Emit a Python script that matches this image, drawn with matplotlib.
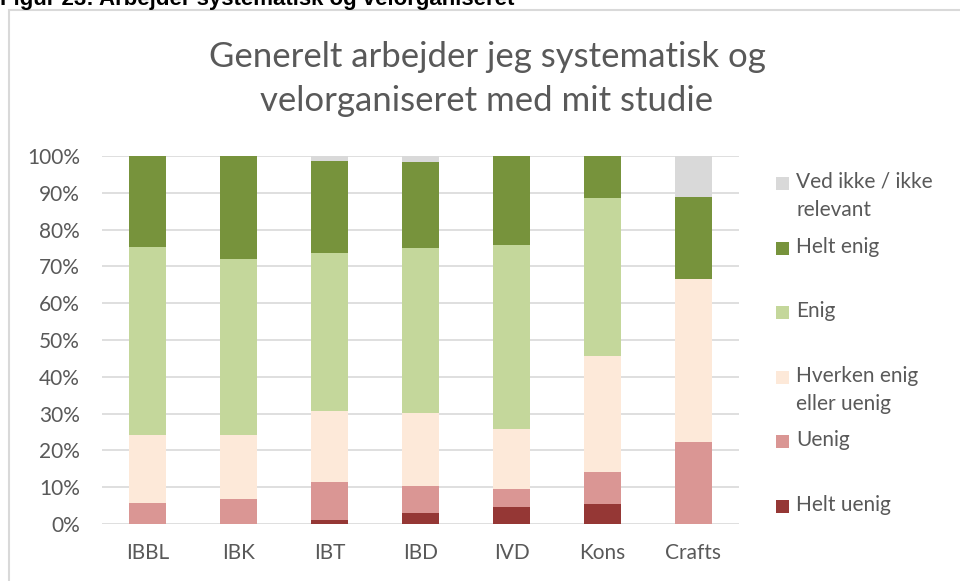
import matplotlib.pyplot as plt
import numpy as np
from matplotlib.patches import Rectangle

plt.rcParams['font.family'] = ['Lato', 'DejaVu Sans']

groups = ["IBBL", "IBK", "IBT", "IBD", "IVD", "Kons", "Crafts"]
# stacked from the bottom up
helt_uenig = [0.0, 0.0, 1.0, 2.9, 4.5, 5.4, 0.0]
uenig = [5.6, 6.7, 10.5, 7.4, 4.9, 8.7, 22.2]
hverken = [18.7, 17.6, 19.3, 19.9, 16.3, 31.5, 44.4]
enig = [50.9, 47.6, 42.8, 44.8, 50.0, 42.9, 0.0]
helt_enig = [24.8, 28.1, 25.0, 23.5, 24.3, 11.5, 22.3]
ved_ikke = [0.0, 0.0, 1.4, 1.5, 0.0, 0.0, 11.1]

series = [("Helt uenig", helt_uenig, "#953735"),
          ("Uenig", uenig, "#da9694"),
          ("Hverken enig\neller uenig", hverken, "#fde9d9"),
          ("Enig", enig, "#c4d79b"),
          ("Helt enig", helt_enig, "#77933c"),
          ("Ved ikke / ikke\nrelevant", ved_ikke, "#d9d9d9")]

txt = "#595959"
W, H = 960, 581
fig = plt.figure(figsize=(9.6, 5.81), dpi=100)
ax = fig.add_axes([102 / W, 1 - 524 / H, 637 / W, 368 / H])

x = np.arange(len(groups))
bottom = np.zeros(len(groups))
for name, vals, col in series:
    vals = np.array(vals)
    ax.bar(x, vals, 0.4, bottom=bottom, color=col, linewidth=0, zorder=3)
    bottom += vals

ax.set_xlim(-0.5, len(groups) - 0.5)
ax.set_ylim(0, 100)
ax.set_yticks(np.arange(0, 101, 10))
ax.set_yticklabels([f"{v}%" for v in range(0, 101, 10)])
ax.set_xticks(x)
ax.set_xticklabels(groups)
ax.grid(axis='y', color='#d9d9d9', linewidth=1.2, zorder=0)
for s in ax.spines.values():
    s.set_visible(False)
ax.tick_params(length=0, labelsize=15, colors=txt)
ax.tick_params(axis='y', pad=16)
ax.tick_params(axis='x', pad=14)

# title
fig.text(487 / W, 1 - 79 / H, "Generelt arbejder jeg systematisk og\nvelorganiseret med mit studie",
         ha='center', va='center', fontsize=25, color=txt, linespacing=1.45)

# legend, drawn by hand in the Excel layout
for i, (name, vals, col) in enumerate(series[::-1]):
    yc = 183 + 64.6 * i
    fig.patches.append(Rectangle((776 / W, 1 - (yc + 7) / H), 13 / W, 13 / H,
                                 transform=fig.transFigure, facecolor=col,
                                 edgecolor='none'))
    fig.text(796 / W, 1 - (yc - 11) / H, name, ha='left', va='top',
             fontsize=15, color=txt, linespacing=1.5)

# chart frame and caption
fig.patches.append(Rectangle((8.5 / W, -0.1), 1.2, 1 - 10 / H + 0.1,
                             transform=fig.transFigure, facecolor='none',
                             edgecolor='#d9d9d9', linewidth=1.5))
fig.text(0, 1 - 5.5 / H, "Figur 23: Arbejder systematisk og velorganiseret",
         ha='left', va='baseline', fontsize=16, fontweight='bold',
         family=['Liberation Sans', 'DejaVu Sans'])

fig.savefig("out.png", dpi=100)
